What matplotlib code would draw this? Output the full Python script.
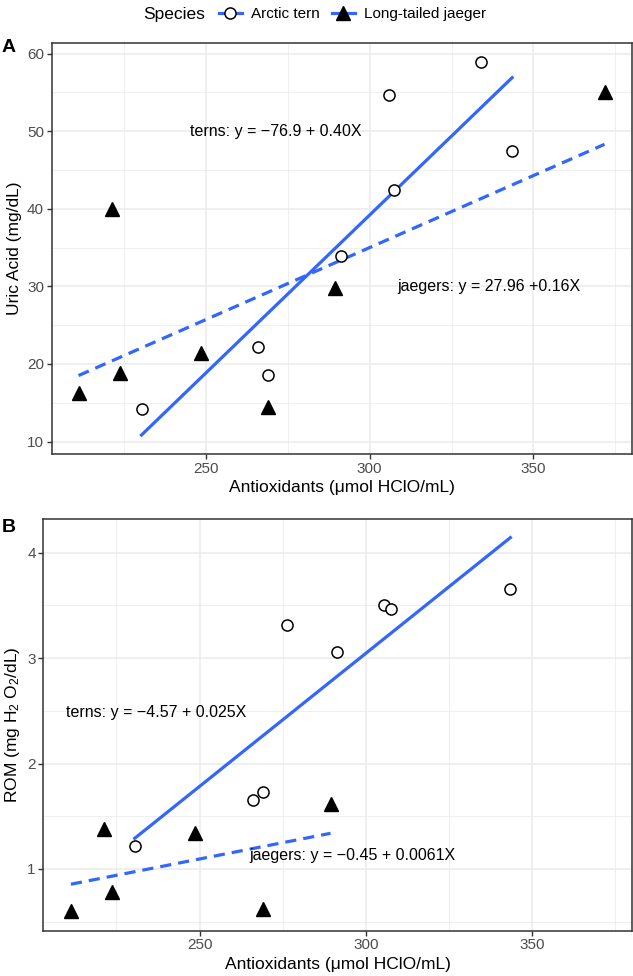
import numpy as np
import matplotlib
matplotlib.use('Agg')
import matplotlib.pyplot as plt
from matplotlib.lines import Line2D

plt.rcParams['font.family'] = ['Liberation Sans', 'DejaVu Sans']
plt.rcParams['mathtext.default'] = 'regular'

# panel A: uric acid
tern_ax = [230.4, 266.0, 269.1, 291.4, 307.6, 305.8, 334.0, 343.5]
tern_ua = [14.2, 22.2, 18.6, 33.9, 42.4, 54.6, 58.9, 47.4]
jaeg_ax = [211.2, 221.3, 223.8, 248.6, 269.1, 289.4, 371.7]
jaeg_ua = [16.2, 40.0, 18.9, 21.4, 14.4, 29.8, 55.1]

# panel B: ROM
tern_bx = [230.5, 266.2, 269.2, 276.4, 291.4, 305.6, 307.7, 343.5]
tern_rom = [1.22, 1.65, 1.73, 3.31, 3.06, 3.50, 3.47, 3.66]
jaeg_bx = [211.3, 221.3, 223.6, 248.6, 269.1, 289.4]
jaeg_rom = [0.60, 1.38, 0.78, 1.34, 0.62, 1.62]

blue = "#3366FF"
grid_c = "#EBEBEB"


def style(ax, ymaj, ymin):
    ax.set_xlim(203, 380)
    ax.set_xticks([250, 300, 350])
    ax.set_xticks([225, 275, 325, 375], minor=True)
    ax.set_yticks(ymaj)
    ax.set_yticks(ymin, minor=True)
    ax.grid(which='major', color=grid_c, lw=1.1)
    ax.grid(which='minor', color=grid_c, lw=0.55)
    ax.set_axisbelow(True)
    for s in ax.spines.values():
        s.set_color('#333333')
        s.set_linewidth(1.1)
    ax.tick_params(which='major', length=3.5, width=1.0, color='#333333',
                   labelsize=11, labelcolor='#4D4D4D', pad=2)
    ax.tick_params(which='minor', length=0)
    ax.set_xlabel("Antioxidants (\u03bcmol HClO/mL)", fontsize=12.5, labelpad=3)


def fit_line(ax, x, y, ls):
    b, a = np.polyfit(x, y, 1)
    xs = np.array([min(x), max(x)])
    ax.plot(xs, a + b * xs, color=blue, lw=2.3, ls=ls, zorder=2,
            dashes=(3.5, 2.2) if ls == '--' else (None, None))


fig = plt.figure(figsize=(6.33, 9.76), dpi=100)
axA = fig.add_axes([0.0817, 0.5348, 0.9163, 0.4215])
axB = fig.add_axes([0.0684, 0.0464, 0.9296, 0.4218])

# A
fit_line(axA, tern_ax, tern_ua, '-')
fit_line(axA, jaeg_ax, jaeg_ua, '--')
axA.plot(tern_ax, tern_ua, 'o', ms=8, mfc='white', mec='black', mew=1.1, zorder=3)
axA.plot(jaeg_ax, jaeg_ua, '^', ms=9.5, color='black', zorder=3)
axA.set_ylim(8.4, 61.4)
style(axA, [10, 20, 30, 40, 50, 60], [15, 25, 35, 45, 55])
axA.set_ylabel("Uric Acid (mg/dL)", fontsize=12.5, labelpad=4)
axA.text(245.3, 50, "terns: y = \u221276.9 + 0.40X", fontsize=11.5, va='center')
axA.text(308.5, 30, "jaegers: y = 27.96 +0.16X", fontsize=11.5, va='center')

# B
fit_line(axB, tern_bx, tern_rom, '-')
fit_line(axB, jaeg_bx, jaeg_rom, '--')
axB.plot(tern_bx, tern_rom, 'o', ms=8, mfc='white', mec='black', mew=1.1, zorder=3)
axB.plot(jaeg_bx, jaeg_rom, '^', ms=9.5, color='black', zorder=3)
axB.set_ylim(0.414, 4.32)
style(axB, [1, 2, 3, 4], [0.5, 1.5, 2.5, 3.5])
axB.set_ylabel("ROM (mg H$_2$ O$_2$/dL)", fontsize=12.5, labelpad=4)
axB.text(209.8, 2.48, "terns: y = \u22124.57 + 0.025X", fontsize=11.5, va='center')
axB.text(265, 1.13, "jaegers: y = \u22120.45 + 0.0061X", fontsize=11.5, va='center')

fig.text(0.003, 0.951, "A", fontsize=14, fontweight='bold', va='center')
fig.text(0.003, 0.460, "B", fontsize=14, fontweight='bold', va='center')

# legend on top
fig.text(143 / 633, 1 - 14 / 976, "Species", fontsize=12.5, va='center')
handles = [
    Line2D([], [], color=blue, lw=2.3, marker='o', ms=8, mfc='white', mec='black', mew=1.1),
    Line2D([], [], color=blue, lw=2.3, marker='^', ms=9.5, mfc='black', mec='black'),
]
fig.legend(handles, ["Arctic tern", "Long-tailed jaeger"], ncol=2, frameon=False,
           loc='center left', bbox_to_anchor=(205 / 633, 1 - 14 / 976),
           fontsize=11, handlelength=1.5, handletextpad=0.6, columnspacing=0.8)

fig.savefig("out.png", dpi=100)
